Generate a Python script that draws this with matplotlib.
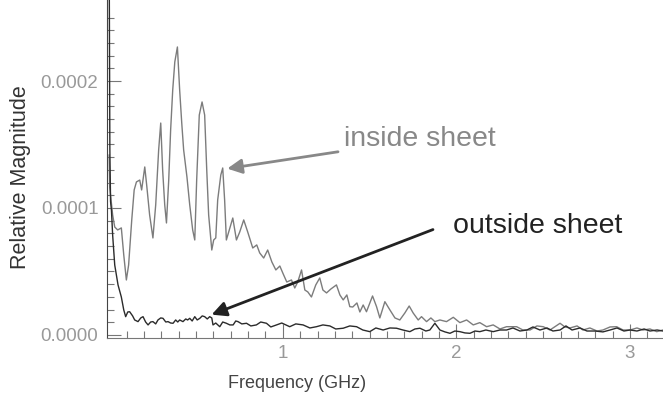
import matplotlib
matplotlib.use('Agg')
import matplotlib.pyplot as plt
import numpy as np

plt.rcParams['font.family'] = ['Liberation Sans', 'DejaVu Sans']

# inside sheet (gray) - frequency in GHz, magnitude in units of 1e-4
freq_in = [0.000, 0.003, 0.020, 0.032, 0.049, 0.070, 0.084, 0.099, 0.112, 0.130,
           0.144, 0.157, 0.176, 0.187, 0.205, 0.216, 0.233, 0.252, 0.268, 0.285,
           0.297, 0.308, 0.320, 0.330, 0.343, 0.354, 0.366, 0.378, 0.393, 0.406,
           0.418, 0.429, 0.448, 0.464, 0.481, 0.493, 0.504, 0.519, 0.535, 0.550,
           0.562, 0.573, 0.591, 0.602, 0.614, 0.625, 0.643, 0.654, 0.665, 0.675,
           0.695, 0.712, 0.733, 0.752, 0.775, 0.798, 0.827, 0.850, 0.867, 0.890,
           0.913, 0.937, 0.960, 0.983, 1.000, 1.023, 1.050, 1.069, 1.086, 1.108,
           1.127, 1.144, 1.165, 1.190, 1.213, 1.231, 1.252, 1.277, 1.309, 1.329,
           1.348, 1.369, 1.386, 1.403, 1.427, 1.444, 1.463, 1.482, 1.517, 1.540,
           1.559, 1.588, 1.617, 1.646, 1.674, 1.703, 1.728, 1.751, 1.780, 1.799,
           1.828, 1.853, 1.876, 1.905, 1.943, 1.982, 2.020, 2.059, 2.097, 2.135,
           2.174, 2.212, 2.251, 2.289, 2.347, 2.383, 2.424, 2.464, 2.500, 2.539,
           2.597, 2.625, 2.654, 2.695, 2.729, 2.769, 2.810, 2.844, 2.885, 2.923,
           2.960, 3.000, 3.040, 3.075, 3.115, 3.154, 3.190]
mag_in = [1.417, 1.165, 0.945, 0.850, 0.827, 0.843, 0.630, 0.433, 0.551, 0.906,
          1.142, 1.205, 1.220, 1.142, 1.323, 1.181, 0.945, 0.764, 1.024, 1.457,
          1.669, 1.299, 1.024, 0.882, 1.220, 1.614, 1.929, 2.150, 2.268, 1.929,
          1.669, 1.457, 1.244, 1.024, 0.827, 0.748, 1.220, 1.732, 1.835, 1.732,
          1.299, 0.945, 0.669, 0.748, 0.764, 1.063, 1.260, 1.315, 1.063, 0.748,
          0.843, 0.921, 0.748, 0.811, 0.906, 0.811, 0.685, 0.709, 0.646, 0.606,
          0.669, 0.575, 0.512, 0.543, 0.488, 0.417, 0.433, 0.370, 0.417, 0.512,
          0.354, 0.339, 0.299, 0.394, 0.449, 0.354, 0.331, 0.362, 0.394, 0.315,
          0.276, 0.315, 0.223, 0.220, 0.252, 0.181, 0.236, 0.183, 0.307, 0.223,
          0.134, 0.262, 0.197, 0.134, 0.118, 0.173, 0.228, 0.173, 0.118, 0.144,
          0.105, 0.134, 0.105, 0.118, 0.105, 0.139, 0.097, 0.118, 0.079, 0.097,
          0.065, 0.079, 0.047, 0.065, 0.065, 0.039, 0.039, 0.071, 0.065, 0.039,
          0.092, 0.063, 0.055, 0.071, 0.039, 0.055, 0.031, 0.039, 0.063, 0.065,
          0.039, 0.039, 0.055, 0.039, 0.047, 0.026, 0.039]

# outside sheet (black)
freq_out = [0.000, 0.004, 0.008, 0.013, 0.020, 0.032, 0.051, 0.070, 0.084, 0.095,
            0.107, 0.118, 0.135, 0.147, 0.166, 0.182, 0.195, 0.210, 0.224, 0.239,
            0.252, 0.268, 0.281, 0.297, 0.310, 0.326, 0.339, 0.354, 0.368, 0.383,
            0.395, 0.406, 0.425, 0.441, 0.452, 0.464, 0.478, 0.493, 0.507, 0.522,
            0.536, 0.550, 0.565, 0.579, 0.591, 0.598, 0.614, 0.637, 0.654, 0.675,
            0.695, 0.714, 0.729, 0.742, 0.764, 0.791, 0.816, 0.848, 0.873, 0.906,
            0.931, 0.964, 0.994, 1.040, 1.075, 1.117, 1.156, 1.194, 1.231, 1.271,
            1.305, 1.348, 1.386, 1.425, 1.461, 1.501, 1.536, 1.578, 1.617, 1.655,
            1.692, 1.732, 1.761, 1.790, 1.824, 1.847, 1.876, 1.905, 1.934, 1.963,
            1.991, 2.020, 2.049, 2.078, 2.107, 2.135, 2.170, 2.212, 2.251, 2.289,
            2.326, 2.366, 2.406, 2.441, 2.481, 2.522, 2.556, 2.597, 2.631, 2.666,
            2.712, 2.752, 2.798, 2.844, 2.885, 2.925, 2.965, 3.000, 3.040, 3.081,
            3.115, 3.156, 3.190]
mag_out = [3.000, 1.450, 1.050, 0.984, 0.787, 0.551, 0.394, 0.299, 0.197, 0.144,
           0.181, 0.183, 0.150, 0.118, 0.105, 0.134, 0.144, 0.102, 0.079, 0.102,
           0.105, 0.087, 0.118, 0.134, 0.131, 0.102, 0.105, 0.094, 0.092, 0.118,
           0.102, 0.118, 0.105, 0.126, 0.118, 0.131, 0.110, 0.144, 0.118, 0.131,
           0.150, 0.144, 0.126, 0.144, 0.134, 0.079, 0.094, 0.065, 0.102, 0.092,
           0.079, 0.079, 0.110, 0.105, 0.087, 0.092, 0.071, 0.079, 0.102, 0.092,
           0.063, 0.079, 0.094, 0.065, 0.087, 0.079, 0.055, 0.065, 0.079, 0.071,
           0.047, 0.053, 0.071, 0.065, 0.039, 0.026, 0.055, 0.039, 0.055, 0.053,
           0.039, 0.026, 0.047, 0.053, 0.031, 0.039, 0.092, 0.039, 0.024, 0.013,
           0.031, 0.026, 0.016, 0.013, 0.031, 0.026, 0.039, 0.026, 0.039, 0.039,
           0.055, 0.031, 0.039, 0.063, 0.039, 0.055, 0.031, 0.039, 0.071, 0.039,
           0.055, 0.031, 0.031, 0.024, 0.039, 0.055, 0.031, 0.039, 0.031, 0.047,
           0.031, 0.039, 0.031]

mag_in = np.array(mag_in) * 1e-4
mag_out = np.array(mag_out) * 1e-4

fig = plt.figure(figsize=(6.63, 4.0), dpi=100)
ax = fig.add_axes([0.161, 0.155, 0.839, 0.845])

ax.plot(freq_in, mag_in, color='#7c7c7c', lw=1.0)
ax.plot(freq_out, mag_out, color='#2b2b2b', lw=1.0)

ax.set_xlim(-0.014, 3.19)
ax.set_ylim(-0.0000024, 0.0002638)

ax.spines['top'].set_visible(False)
ax.spines['right'].set_visible(False)
ax.spines['left'].set_color('#444444')
ax.spines['bottom'].set_color('#777777')

ax.set_xticks([1, 2, 3])
ax.set_xticks(np.arange(0.1, 3.15, 0.1), minor=True)
ax.set_yticks([0.0, 0.0001, 0.0002])
ax.set_yticklabels(['0.0000', '0.0001', '0.0002'])
ax.set_yticks(np.arange(0.0, 0.00026, 0.00001), minor=True)
ax.tick_params(axis='both', which='major', direction='in', length=10, width=0.8,
               colors='#777777', labelcolor='#999999', labelsize=13.5)
ax.tick_params(axis='both', which='minor', direction='in', length=5, width=0.8,
               colors='#777777')
ax.tick_params(axis='y', pad=6)
ax.tick_params(axis='x', pad=5)

ax.set_xlabel('Frequency (GHz)', fontsize=13, color='#444444')
ax.xaxis.set_label_coords(0.342, -0.11)
ax.set_ylabel('Relative Magnitude', fontsize=15.5, color='#333333')
ax.yaxis.set_label_coords(-0.137, 0.476)

ax.annotate('inside sheet', xy=(0.68, 0.000131), xytext=(1.35, 0.000154),
            fontsize=20.5, color='#888888', va='center', ha='left',
            arrowprops=dict(arrowstyle='-|>', color='#888888', lw=2,
                            mutation_scale=22, shrinkA=2, shrinkB=0))
ax.text(1.98, 0.000086, 'outside sheet', fontsize=20.5, color='#222222',
        va='center', ha='left')
ax.annotate('', xy=(0.59, 0.000016), xytext=(1.865, 0.000083),
            arrowprops=dict(arrowstyle='-|>', color='#222222', lw=2,
                            mutation_scale=22, shrinkA=0, shrinkB=0))

fig.savefig('out.png', dpi=100)
